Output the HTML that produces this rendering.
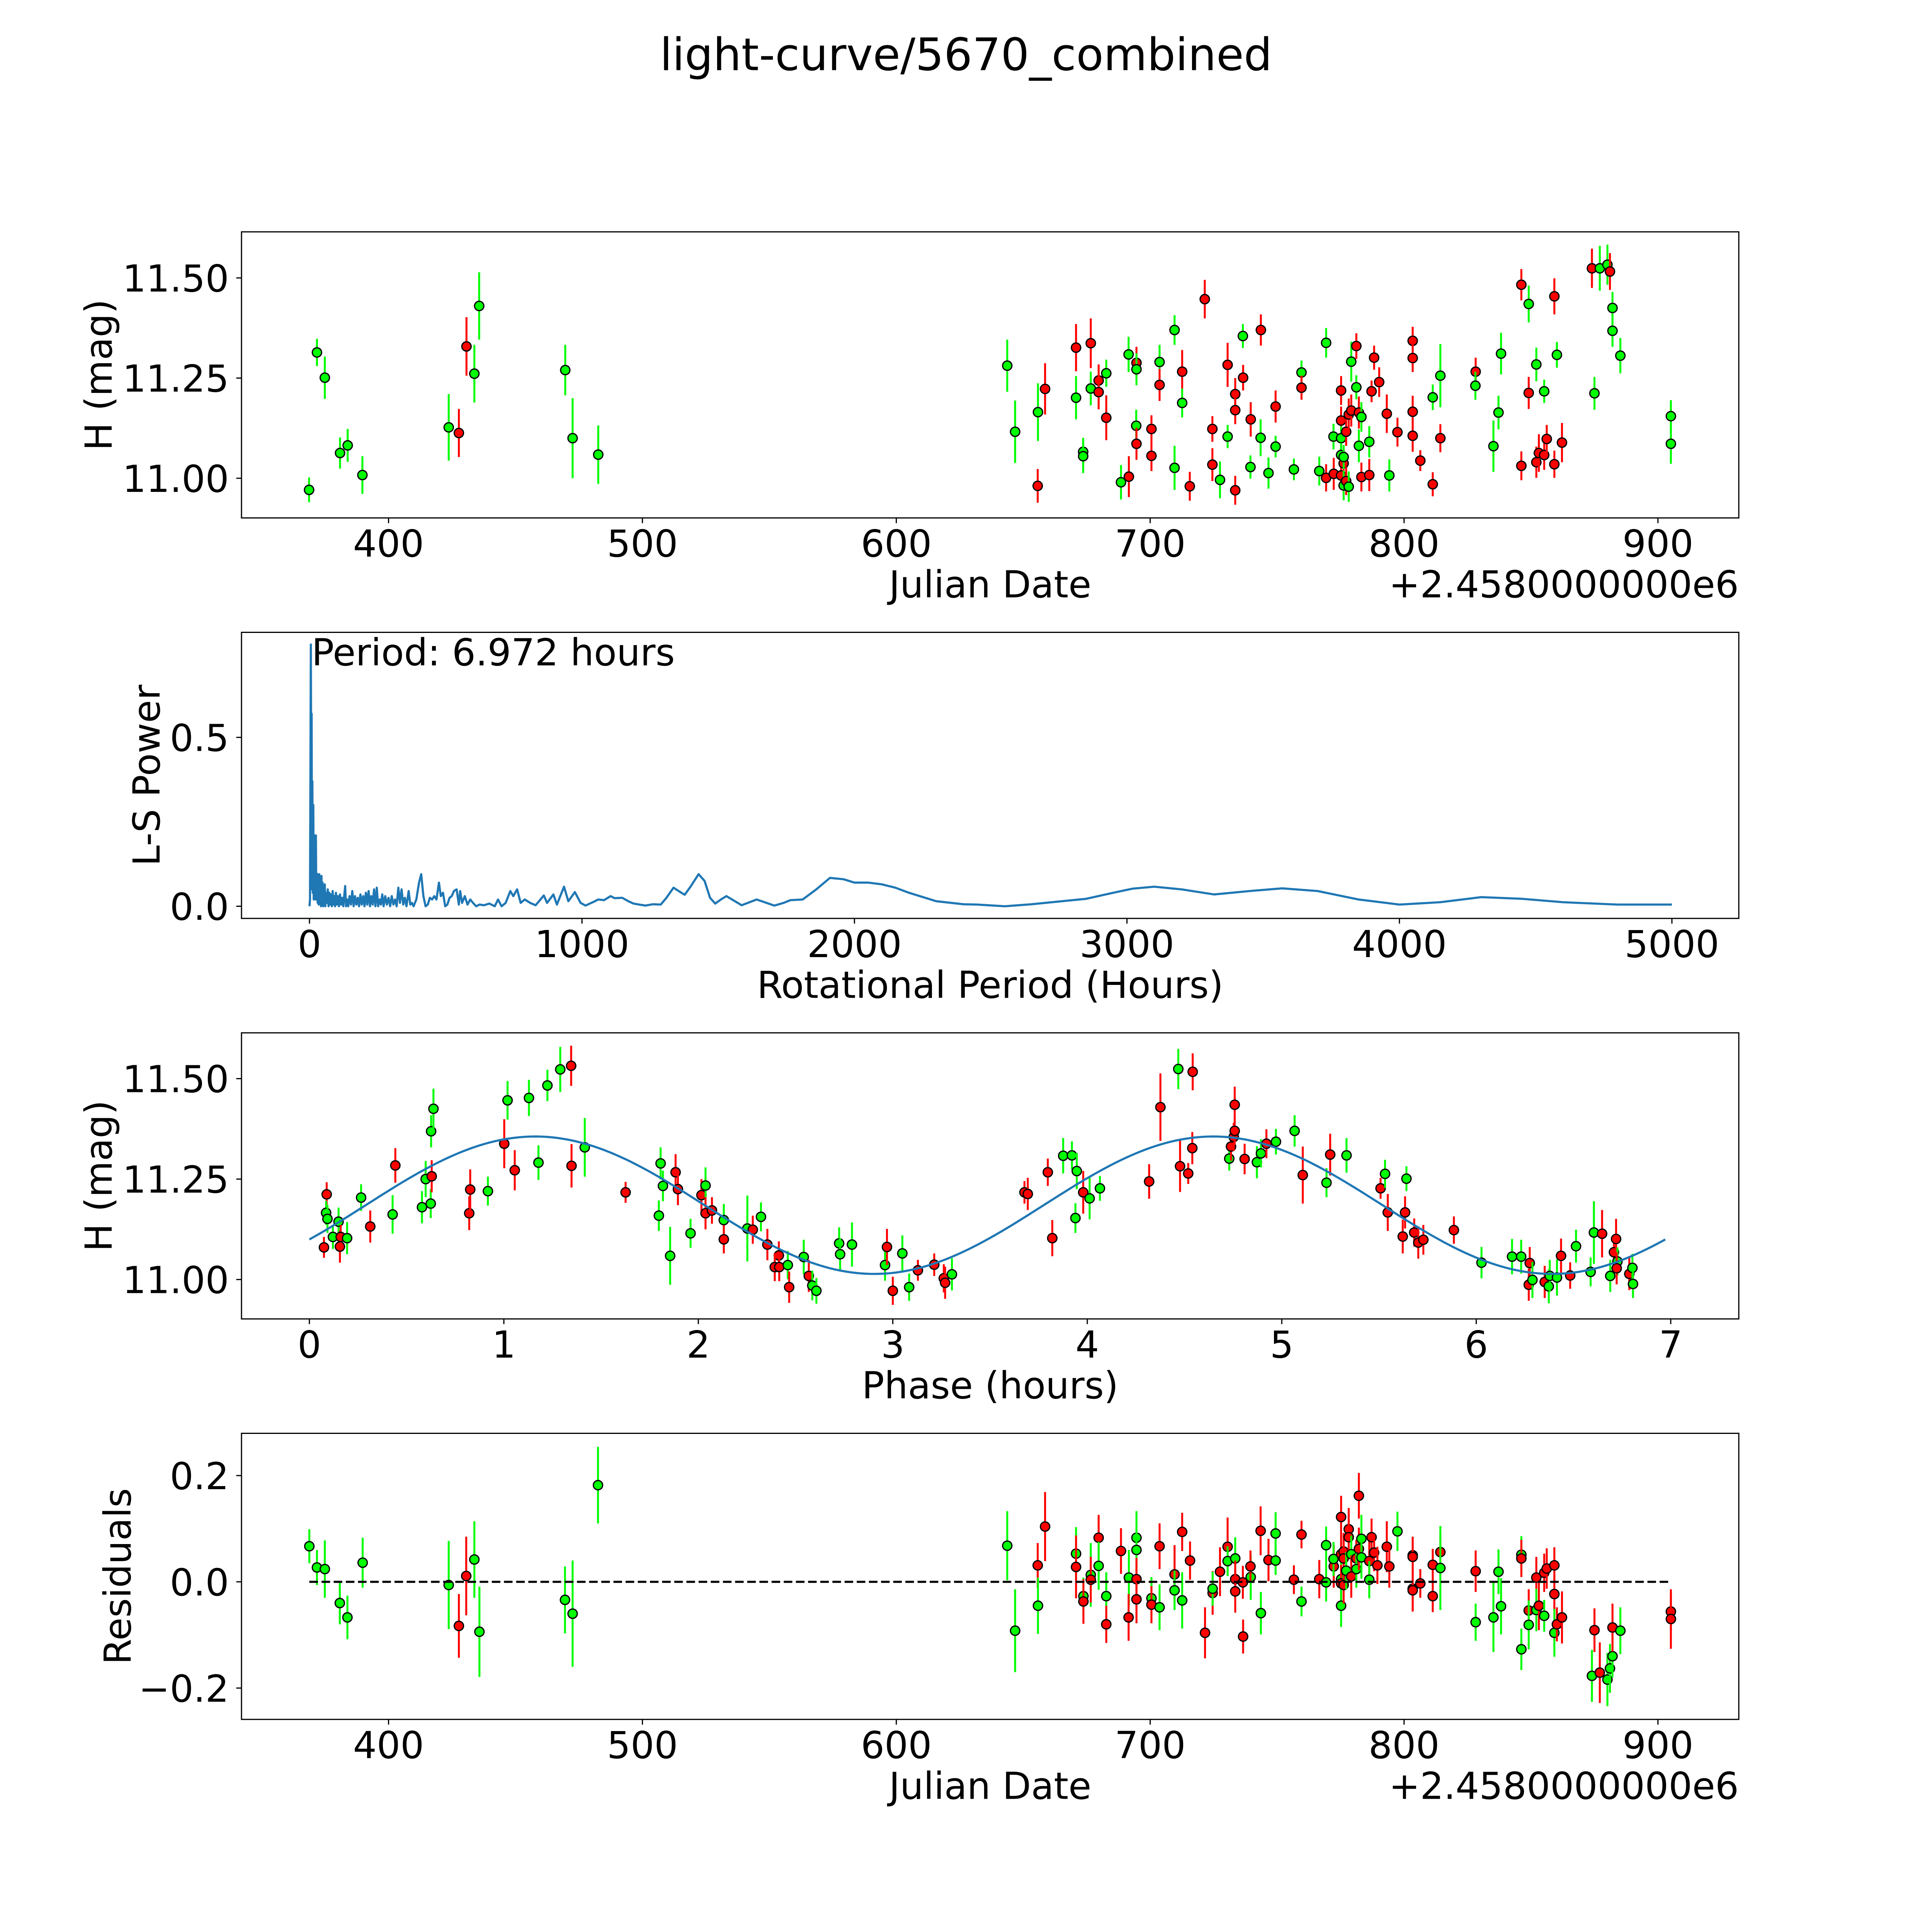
<!DOCTYPE html>
<html>
<head>
<meta charset="utf-8">
<style>
html,body{margin:0;padding:0;background:#fff;width:100%;height:100%;overflow:hidden;}
svg{display:block;width:100vw;height:100vh;}
text{font-family:"DejaVu Sans","Liberation Sans",sans-serif;fill:#000;}
</style>
</head>
<body>
<svg id="chart" viewBox="0 0 5400 5400" preserveAspectRatio="xMidYMid meet" xmlns="http://www.w3.org/2000/svg">
<rect x="0" y="0" width="5400" height="5400" fill="#fff"/>
<text x="2700" y="196" font-size="125" text-anchor="middle">light-curve/5670_combined</text>
</svg>
<script>
// ---------- Panel 1: light curve (JD offset, H mag, error, band) ----------
const lcJD = [368.7,371.8,374.9,380.9,383.9,389.7,423.7,427.7,430.7,433.8,435.7,469.6,472.5,482.6,
643.7,646.8,655.7,655.8,658.6,670.8,670.8,673.6,673.6,676.6,676.6,679.7,679.7,682.7,682.7,688.5,691.6,691.5,694.6,694.6,694.5,694.6,700.5,700.5,703.7,703.7,709.6,709.6,712.6,712.6,715.6,721.5,724.5,724.5,727.5,730.5,730.5,733.5,733.5,733.5,736.5,736.6,739.5,739.6,743.5,743.6,746.6,749.4,749.4,756.6,759.6,759.6,766.6,769.3,769.3,772.2,772.3,775.2,775.2,775.2,775.2,775.2,776.2,776.2,777.2,778.2,776.2,777.2,778.2,779.2,779.2,781.2,781.2,782.2,783.2,782.2,783.2,786.3,786.3,787.2,788.2,790.2,793.2,794.2,797.4,803.4,803.4,803.4,803.4,806.4,811.3,811.3,814.3,814.3,828.2,828.1,835.2,837.2,838.2,846.2,846.2,849.1,849.1,852.1,852.1,853.1,855.2,855.2,856.2,859.2,859.2,860.2,862.2,874.0,875.0,877.1,880.1,881.1,882.1,882.1,885.2,905.1,905.1];
const lcMag = [10.971,11.314,11.251,11.063,11.082,11.008,11.127,11.113,11.329,11.261,11.430,11.270,11.100,11.059,
11.281,11.116,10.981,11.165,11.223,11.326,11.201,11.066,11.055,11.337,11.224,11.244,11.215,11.262,11.151,10.990,11.004,11.309,11.288,11.272,11.131,11.086,11.123,11.056,11.290,11.233,11.370,11.026,11.266,11.188,10.980,11.447,11.123,11.034,10.996,11.283,11.104,11.210,11.170,10.970,11.355,11.251,11.028,11.147,11.101,11.370,11.013,11.079,11.179,11.022,11.264,11.226,11.018,11.338,11.001,11.104,11.011,11.219,11.144,11.100,11.058,11.007,11.037,10.982,10.993,10.979,11.053,11.116,11.159,11.169,11.291,11.330,11.227,11.164,11.153,11.081,11.003,11.008,11.091,11.217,11.301,11.240,11.161,11.007,11.115,11.343,11.300,11.166,11.106,11.044,11.202,10.985,11.256,11.100,11.266,11.231,11.080,11.164,11.311,11.483,11.031,11.435,11.213,11.284,11.040,11.063,11.217,11.058,11.098,11.454,11.035,11.308,11.089,11.524,11.212,11.524,11.533,11.516,11.425,11.368,11.306,11.155,11.086];
const lcErr = [0.031,0.034,0.053,0.039,0.041,0.047,0.083,0.060,0.073,0.072,0.084,0.063,0.100,0.073,
0.065,0.078,0.042,0.072,0.064,0.059,0.054,0.035,0.042,0.062,0.042,0.040,0.043,0.034,0.056,0.043,0.051,0.044,0.040,0.040,0.040,0.040,0.034,0.038,0.043,0.040,0.037,0.055,0.054,0.036,0.036,0.048,0.032,0.041,0.046,0.055,0.029,0.040,0.035,0.036,0.030,0.032,0.029,0.043,0.046,0.039,0.039,0.027,0.040,0.027,0.030,0.030,0.036,0.037,0.034,0.032,0.040,0.036,0.035,0.030,0.030,0.035,0.035,0.037,0.035,0.038,0.030,0.035,0.040,0.040,0.050,0.032,0.030,0.040,0.037,0.041,0.036,0.040,0.039,0.027,0.030,0.037,0.048,0.040,0.036,0.035,0.035,0.040,0.040,0.026,0.032,0.030,0.079,0.035,0.035,0.035,0.064,0.042,0.052,0.039,0.036,0.046,0.040,0.042,0.039,0.047,0.029,0.037,0.035,0.045,0.034,0.032,0.049,0.049,0.041,0.056,0.050,0.046,0.040,0.040,0.044,0.040,0.050];
const lcBand = ("gggggggrrgggggg" + "grgrrgggrgrrgrgrgrggrrrgrggrgrrrrgrgrrrgrgrgrggrggrggrgrrrggrrgrggrrrgrgrggrrgrrrrgrrrrrrgrgrrggggrrgrgrrgrrrrgrrgggrgg").split('');
const lcTicks = [400,500,600,700,800,900];
const magTicks = [11.00,11.25,11.50];
const magTickLabels = ["11.00","11.25","11.50"];

// ---------- Panel 2: Lomb-Scargle periodogram ----------
const lsPeriod = [0,2,5,6.5,8,9,10.6,12,14,15.5,17.6,19,21,22.5,23.5,25,28,30,32,34,36,38,40,42,44,46,48,50,52,54,56,58,61,64,67,70,73,76,79,82,85,88,91,94,97,100,104,108,112,116,120,124,128,131,134,138,142,147,152,157,162,167,172,177,182,187,192,197,202,207,212,217,222,227,232,237,242,247,252,257,262,267,272,278,284,290,296,302,308,314,320,326,332,338,344,350,356,364,370,376,382,392,402,410,418,426,434,442,450,458,466,475,482,490,498,506,514,522,530,540,548,553,560,570,580,590,600,612,624,640,660,680,692,705,720,737,748,762,775,790,810,830,860,872,895,908,934,950,974,995,1013,1040,1060,1081,1105,1120,1148,1170,1189,1210,1233,1260,1289,1310,1336,1355,1377,1400,1428,1450,1470,1489,1510,1530,1555,1586,1615,1641,1670,1706,1740,1765,1810,1860,1910,1960,2000,2050,2100,2150,2200,2300,2400,2450,2552,2650,2750,2850,2950,3020,3100,3200,3320,3450,3570,3700,3850,4000,4150,4300,4450,4600,4800,5000];
const lsPower = [0,0.02,0.775,0.3,0.57,0.05,0.37,0.04,0.30,0.02,0.21,0.03,0.15,0.02,0.21,0.02,0.096,0.01,0.09,0.005,0.095,0.01,0.06,0.0,0.09,0.01,0.07,0.0,0.05,0.01,0.065,0.0,0.04,0.01,0.05,0.0,0.04,0.005,0.035,0.0,0.045,0.005,0.03,0.0,0.04,0.005,0.03,0.0,0.035,0.005,0.025,0.0,0.035,0.06,0.0,0.02,0.0,0.03,0.005,0.045,0.0,0.03,0.005,0.025,0.0,0.035,0.005,0.03,0.0,0.04,0.005,0.045,0.0,0.03,0.005,0.05,0.0,0.055,0.0,0.02,0.005,0.035,0.0,0.03,0.005,0.025,0.0,0.03,0.005,0.02,0.0,0.055,0.01,0.05,0.005,0.025,0.0,0.045,0.005,0.01,0.0,0.02,0.07,0.095,0.03,0.0,0.005,0.025,0.02,0.03,0.02,0.07,0.03,0.04,0.0,0.005,0.025,0.03,0.045,0.05,0.005,0.045,0.01,0.03,0.005,0.02,0.01,0.0,0.005,0.003,0.008,0.0,0.02,0.0,0.01,0.045,0.03,0.05,0.01,0.02,0.01,0.003,0.032,0.01,0.035,0.005,0.058,0.015,0.042,0.01,0.002,0.012,0.02,0.018,0.03,0.024,0.025,0.015,0.008,0.005,0.002,0.006,0.005,0.025,0.055,0.045,0.034,0.06,0.095,0.075,0.025,0.008,0.02,0.03,0.018,0.003,0.012,0.02,0.012,0.002,0.01,0.018,0.02,0.05,0.084,0.08,0.07,0.07,0.065,0.055,0.04,0.015,0.006,0.005,0.0,0.006,0.014,0.022,0.04,0.052,0.058,0.05,0.035,0.045,0.053,0.045,0.02,0.005,0.012,0.027,0.022,0.012,0.005,0.005];
const lsXTicks = [0,1000,2000,3000,4000,5000];
const lsYTicks = [0.0,0.5];
const lsYTickLabels = ["0.0","0.5"];
const bestPeriodLabel = "Period: 6.972 hours";

// ---------- Panel 3: phase-folded curve ----------
const phPhase = [0.075,0.089,0.086,0.093,0.121,0.150,0.157,0.161,0.194,0.266,0.313,0.428,0.442,0.579,0.598,0.624,0.629,0.626,0.638,0.822,0.827,0.918,1.002,1.019,1.056,1.129,1.178,1.224,1.290,1.346,1.348,1.416,1.626,1.797,1.806,1.818,1.855,1.883,1.895,1.960,2.016,2.037,2.037,2.070,2.131,2.131,2.252,2.280,2.322,2.355,2.414,2.393,2.416,2.460,2.467,2.542,2.568,2.586,2.607,2.724,2.729,2.790,2.960,2.970,3.000,3.049,3.084,3.129,3.213,3.262,3.269,3.304,
3.677,3.694,3.797,3.820,3.876,3.921,3.939,3.946,3.979,4.012,4.065,4.318,4.376,4.468,4.477,4.519,4.540,4.542,4.730,4.739,4.753,4.758,4.758,4.809,4.872,4.893,4.921,4.970,5.066,5.108,5.230,5.249,5.333,5.508,5.531,5.545,5.634,5.641,5.622,5.681,5.702,5.728,5.885,6.027,6.184,6.231,6.275,6.270,6.289,6.352,6.373,6.378,6.415,6.436,6.483,6.513,6.588,6.605,6.647,6.689,6.708,6.719,6.726,6.722,6.787,6.803,6.806];
const phMag = [11.080,11.212,11.166,11.151,11.106,11.144,11.082,11.106,11.103,11.204,11.132,11.162,11.284,11.180,11.250,11.189,11.257,11.369,11.425,11.165,11.224,11.220,11.338,11.446,11.272,11.452,11.291,11.483,11.523,11.532,11.283,11.329,11.217,11.159,11.289,11.233,11.059,11.267,11.225,11.115,11.210,11.234,11.165,11.172,11.148,11.100,11.127,11.124,11.156,11.087,11.060,11.031,11.031,11.036,10.981,11.056,11.009,10.985,10.972,11.090,11.063,11.087,11.036,11.081,10.972,11.065,10.981,11.023,11.037,11.003,10.992,11.013,
11.217,11.213,11.267,11.103,11.308,11.309,11.153,11.270,11.217,11.202,11.227,11.244,11.429,11.524,11.282,11.264,11.327,11.517,11.301,11.331,11.355,11.435,11.370,11.300,11.292,11.314,11.338,11.343,11.370,11.260,11.241,11.311,11.309,11.227,11.263,11.167,11.167,11.251,11.107,11.117,11.092,11.099,11.123,11.042,11.057,11.057,11.041,10.987,10.999,10.994,10.983,11.009,11.005,11.059,11.010,11.083,11.019,11.117,11.114,11.009,11.068,11.101,11.045,11.028,11.014,11.029,10.989];
const phErr = [0.026,0.030,0.030,0.035,0.030,0.035,0.040,0.030,0.040,0.033,0.040,0.048,0.043,0.040,0.045,0.036,0.040,0.040,0.050,0.042,0.050,0.036,0.061,0.048,0.050,0.045,0.043,0.039,0.056,0.050,0.054,0.073,0.026,0.038,0.040,0.038,0.072,0.045,0.040,0.036,0.040,0.045,0.040,0.033,0.040,0.035,0.082,0.035,0.036,0.039,0.035,0.035,0.035,0.035,0.039,0.043,0.040,0.037,0.032,0.040,0.040,0.055,0.039,0.045,0.035,0.045,0.034,0.026,0.028,0.035,0.040,0.040,
0.028,0.040,0.034,0.045,0.044,0.035,0.037,0.045,0.053,0.052,0.031,0.043,0.084,0.050,0.064,0.026,0.040,0.046,0.030,0.035,0.035,0.045,0.035,0.038,0.040,0.035,0.036,0.032,0.039,0.071,0.036,0.052,0.043,0.026,0.035,0.046,0.040,0.031,0.042,0.035,0.040,0.037,0.034,0.039,0.044,0.042,0.040,0.040,0.045,0.040,0.042,0.040,0.045,0.043,0.033,0.041,0.036,0.078,0.059,0.040,0.040,0.050,0.035,0.040,0.040,0.035,0.035];
const phBand = ("rrgggg" + "rrggrgrgggrggrrgrgrggggrrgrggggrrgrgrrgrgrgrrrrgrgrggggggrrggrrr" + "rgrrrrggggrggrrgrrrrgrrrrrggrggrgrgrgrrgrrrrrgggrrgrgggrrgggrgrrgrr").split('');
const phXTicks = [0,1,2,3,4,5,6,7];
// sinusoidal model (fitted shape)
const modelMean = 11.185, modelAmp = 0.171, modelPeak = 1.161, modelHalfPeriod = 3.486, modelPeriod = 6.972;

// ---------- Panel 4: residuals ----------
const resJD = [368.8,371.8,374.9,380.8,383.8,389.8,423.7,427.7,430.6,433.8,435.8,469.5,472.5,482.5,
643.7,646.8,655.7,655.8,658.6,670.8,670.8,673.7,673.7,676.6,676.6,679.7,679.7,682.7,682.7,688.5,691.6,691.5,694.6,694.6,694.6,694.6,700.5,700.5,703.7,703.7,709.6,709.6,712.6,712.6,715.7,721.6,724.6,724.6,727.5,730.5,730.5,733.5,733.5,733.5,736.5,736.6,739.6,739.5,743.5,743.6,746.6,749.4,749.4,756.6,759.6,759.6,766.6,769.3,769.3,772.3,772.2,775.2,775.2,775.2,775.2,775.2,776.2,776.2,776.2,777.2,778.2,778.2,779.2,779.2,781.2,781.2,782.2,782.2,783.2,783.2,786.3,786.3,787.2,788.2,789.5,
793.2,794.2,797.4,803.4,803.4,803.4,803.4,806.4,811.3,811.3,814.3,814.3,828.2,828.2,835.2,837.2,838.2,846.2,846.2,846.2,849.1,849.1,852.1,852.1,853.1,855.2,855.2,856.2,859.2,859.2,859.2,860.2,862.2,874.0,875.0,877.1,880.1,881.1,882.1,882.1,885.2,905.1,905.1];
const resVal = [0.067,0.027,0.024,-0.040,-0.067,0.036,-0.006,-0.083,0.011,0.042,-0.094,-0.034,-0.060,0.182,
0.068,-0.092,0.031,-0.045,0.104,0.053,0.028,-0.027,-0.037,0.013,0.004,0.083,0.030,-0.027,-0.080,0.058,0.008,-0.067,0.083,0.060,0.005,-0.033,-0.031,-0.043,0.067,-0.048,0.014,-0.016,0.094,-0.035,0.040,-0.096,-0.021,-0.013,0.019,0.066,0.039,0.044,0.005,-0.018,-0.001,-0.103,0.009,0.029,0.096,-0.059,0.041,0.091,0.040,0.004,0.089,-0.037,0.005,0.069,-0.001,0.029,0.043,0.122,0.052,0.005,-0.003,-0.045,0.057,0.044,-0.006,0.021,0.099,0.084,0.052,0.010,0.044,0.024,0.162,0.062,0.081,0.046,0.039,0.004,0.084,0.055,0.031,
0.066,0.029,0.095,0.050,0.047,-0.013,-0.016,-0.003,0.032,-0.027,0.056,0.026,0.020,-0.076,-0.067,0.019,-0.046,-0.127,0.051,0.044,-0.054,-0.081,0.008,-0.053,-0.045,0.017,-0.064,0.025,0.031,-0.023,-0.096,-0.080,-0.067,-0.177,-0.091,-0.171,-0.184,-0.163,-0.140,-0.086,-0.092,-0.056,-0.070];
const resErr = [0.032,0.033,0.054,0.040,0.041,0.047,0.083,0.060,0.074,0.072,0.085,0.063,0.100,0.072,
0.065,0.078,0.042,0.053,0.065,0.050,0.059,0.035,0.042,0.060,0.043,0.043,0.045,0.045,0.035,0.043,0.052,0.044,0.050,0.040,0.040,0.045,0.040,0.035,0.043,0.043,0.055,0.037,0.036,0.053,0.036,0.048,0.041,0.032,0.046,0.055,0.028,0.040,0.035,0.040,0.031,0.032,0.043,0.030,0.046,0.040,0.040,0.040,0.027,0.027,0.026,0.028,0.036,0.035,0.036,0.040,0.032,0.040,0.035,0.035,0.035,0.040,0.035,0.035,0.035,0.035,0.040,0.040,0.035,0.040,0.035,0.035,0.043,0.040,0.045,0.040,0.040,0.035,0.035,0.035,0.035,
0.048,0.040,0.037,0.035,0.035,0.040,0.040,0.027,0.030,0.030,0.035,0.079,0.039,0.035,0.065,0.042,0.053,0.039,0.035,0.035,0.040,0.046,0.039,0.040,0.046,0.036,0.030,0.038,0.034,0.035,0.045,0.032,0.049,0.049,0.041,0.057,0.050,0.046,0.040,0.045,0.044,0.035,0.056];
const resBand = ("gggggggrrggggg" + "ggrgrgrgrgrrggrrgrggrrgrrgrgrgrrrgrrggrrrrgrrgrggrrgrggrgrrgrgrrrgrrgrrgrrggrgrrrrr" + "grrrrrrrrgrggggggrrgrgrrgrrrgrrgrrgggrgrrg").split('');
const resTicks = [-0.2,0.0,0.2];
const resTickLabels = ["\u22120.2","0.0","0.2"];

// ---------- layout ----------
const NS = "http://www.w3.org/2000/svg";
const svg = document.getElementById('chart');
const AX_L = 675, AX_R = 4860;
const FS = 104;
const GREEN = "#00ff00", RED = "#ff0000", BLUE = "#1f77b4";

function mk(tag, parent, attrs) {
  const e = document.createElementNS(NS, tag);
  for (const k in attrs) e.setAttribute(k, attrs[k]);
  parent.appendChild(e);
  return e;
}
function linScale(d0, d1, r0, r1) { return v => r0 + (v - d0) * (r1 - r0) / (d1 - d0); }

function makePanel(name, top, bottom, xd, yd) {
  const g = mk('g', svg, {});
  
  
  return { g, top, bottom, x: linScale(xd[0], xd[1], AX_L, AX_R), y: linScale(yd[0], yd[1], bottom, top) };
}
function frame(p) {
  const r = mk('rect', p.g, { x: AX_L, y: p.top, width: AX_R - AX_L, height: p.bottom - p.top, fill: 'none', stroke: '#000', 'stroke-width': 3.3 });
  
  
}
function xTicks(p, vals, labels) {
  vals.forEach((v, i) => {
    const X = p.x(v);
    const t = mk('line', p.g, { x1: X, x2: X, y1: p.bottom, y2: p.bottom + 14.6, stroke: '#000', 'stroke-width': 3.3 });
    
    
    const tx = mk('text', p.g, { x: X, y: p.bottom + 108, 'font-size': FS, 'text-anchor': 'middle' });
    tx.textContent = labels ? labels[i] : String(v);
    
    
  });
}
function yTicks(p, vals, labels) {
  vals.forEach((v, i) => {
    const Y = p.y(v);
    const t = mk('line', p.g, { x1: AX_L, x2: AX_L - 14.6, y1: Y, y2: Y, stroke: '#000', 'stroke-width': 3.3 });
    
    
    const tx = mk('text', p.g, { x: 640, y: Y + 38, 'font-size': FS, 'text-anchor': 'end' });
    tx.textContent = labels[i];
    
    
  });
}
function xLabel(p, txt, offset) {
  const t = mk('text', p.g, { x: (AX_L + AX_R) / 2, y: p.bottom + 222, 'font-size': FS, 'text-anchor': 'middle' });
  t.textContent = txt;
  
  
  if (offset) {
    const o = mk('text', p.g, { x: AX_R, y: p.bottom + 222, 'font-size': FS, 'text-anchor': 'end' });
    o.textContent = offset;
    
    
  }
}
function yLabel(p, txt, bx) {
  const cy = (p.top + p.bottom) / 2;
  const t = mk('text', p.g, { x: bx, y: cy, 'font-size': FS, 'text-anchor': 'middle', transform: 'rotate(-90 ' + bx + ' ' + cy + ')' });
  t.textContent = txt;
  
  
}
function errPoints(p, xs, ys, es, bands, nm) {
  const g = mk('g', p.g, {});
  
  
  xs.forEach((xv, i) => {
    const col = bands[i] === 'r' ? RED : GREEN;
    const X = p.x(xv);
    const b = mk('line', g, { x1: X, x2: X, y1: p.y(ys[i] - es[i]), y2: p.y(ys[i] + es[i]), stroke: col, 'stroke-width': 5.5 });
    
    
    const c = mk('circle', g, { cx: X, cy: p.y(ys[i]), r: 13, fill: col, stroke: '#000', 'stroke-width': 3.5 });
    
    
  });
}

// Panel 1
const p1 = makePanel('light-curve-panel', 648.0, 1447.6, [342.08, 931.85], [10.901, 11.615]);
errPoints(p1, lcJD, lcMag, lcErr, lcBand, 'light-curve-points');
frame(p1);
xTicks(p1, lcTicks);
yTicks(p1, magTicks, magTickLabels);
xLabel(p1, 'Julian Date', '+2.4580000000e6');
yLabel(p1, 'H (mag)', 312);

// Panel 2
const p2 = makePanel('periodogram-panel', 1767.4, 2567.0, [-249.5, 5245.5], [-0.036, 0.811]);
const lsPath = mk('path', p2.g, { d: lsPeriod.map((v, i) => (i ? 'L' : 'M') + p2.x(v).toFixed(1) + ' ' + p2.y(lsPower[i]).toFixed(1)).join(' '), fill: 'none', stroke: BLUE, 'stroke-width': 6, 'stroke-linejoin': 'round' });


frame(p2);
xTicks(p2, lsXTicks);
yTicks(p2, lsYTicks, lsYTickLabels);
xLabel(p2, 'Rotational Period (Hours)');
yLabel(p2, 'L-S Power', 446);
const ann = mk('text', p2.g, { x: 871, y: 1860, 'font-size': FS });
ann.textContent = bestPeriodLabel;



// Panel 3
const p3 = makePanel('phase-folded-panel', 2886.8, 3686.4, [-0.349, 7.35], [10.902, 11.614]);
errPoints(p3, phPhase, phMag, phErr, phBand, 'phase-folded-points');
const mp = [];
for (let i = 0; i <= 300; i++) {
  const ph = modelPeriod * i / 300;
  const m = modelMean + modelAmp * Math.cos(2 * Math.PI * (ph - modelPeak) / modelHalfPeriod);
  mp.push((i ? 'L' : 'M') + p3.x(ph).toFixed(1) + ' ' + p3.y(m).toFixed(1));
}
const mPath = mk('path', p3.g, { d: mp.join(' '), fill: 'none', stroke: BLUE, 'stroke-width': 6 });


frame(p3);
xTicks(p3, phXTicks);
yTicks(p3, magTicks, magTickLabels);
xLabel(p3, 'Phase (hours)');
yLabel(p3, 'H (mag)', 312);

// Panel 4
const p4 = makePanel('residuals-panel', 4006.2, 4805.8, [342.08, 931.85], [-0.259, 0.2795]);
errPoints(p4, resJD, resVal, resErr, resBand, 'residual-points');
const zl = mk('line', p4.g, { x1: p4.x(Math.min(...resJD)), x2: p4.x(Math.max(...resJD)), y1: p4.y(0), y2: p4.y(0), stroke: '#000', 'stroke-width': 6, 'stroke-dasharray': '24 10' });


frame(p4);
xTicks(p4, lcTicks);
yTicks(p4, resTicks, resTickLabels);
xLabel(p4, 'Julian Date', '+2.4580000000e6');
yLabel(p4, 'Residuals', 365);
</script>
</body>
</html>
